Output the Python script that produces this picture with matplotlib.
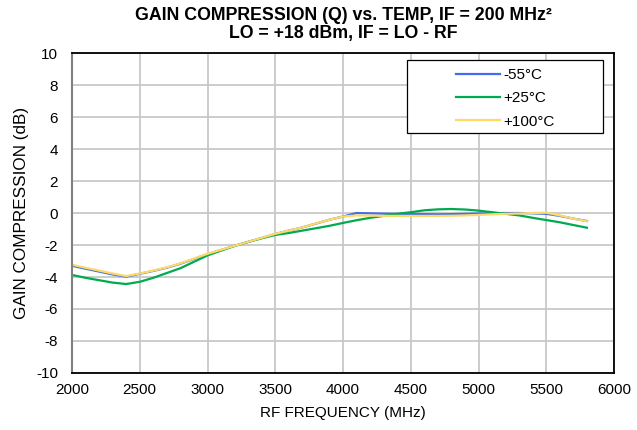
import matplotlib
matplotlib.use("Agg")
import matplotlib.pyplot as plt
from matplotlib.patches import Rectangle

plt.rcParams['font.family'] = ['Liberation Sans', 'DejaVu Sans']
plt.rcParams['axes.unicode_minus'] = False

freq = [2000, 2100, 2200, 2300, 2400, 2500, 2600, 2700, 2800, 2900,
        3000, 3100, 3200, 3300, 3400, 3500, 3600, 3700, 3800, 3900,
        4000, 4100, 4200, 4300, 4400, 4500, 4600, 4700, 4800, 4900,
        5000, 5100, 5200, 5300, 5400, 5500, 5600, 5700, 5800]

gc_m55 = [-3.30, -3.48, -3.66, -3.84, -3.98, -3.80, -3.62, -3.42, -3.17, -2.87,
          -2.57, -2.31, -2.06, -1.81, -1.56, -1.31, -1.10, -0.90, -0.66, -0.42,
          -0.22, 0.00, -0.02, -0.04, -0.05, -0.06, -0.07, -0.08, -0.07, -0.05,
          -0.03, -0.01, 0.00, 0.00, -0.02, -0.05, -0.18, -0.35, -0.50]

gc_p25 = [-3.87, -4.05, -4.20, -4.35, -4.44, -4.30, -4.05, -3.75, -3.45, -3.05,
          -2.65, -2.35, -2.05, -1.80, -1.58, -1.37, -1.25, -1.10, -0.95, -0.80,
          -0.62, -0.45, -0.30, -0.18, -0.05, 0.05, 0.17, 0.23, 0.25, 0.22,
          0.15, 0.05, -0.05, -0.15, -0.30, -0.44, -0.58, -0.75, -0.92]

gc_p100 = [-3.23, -3.42, -3.60, -3.78, -3.94, -3.78, -3.60, -3.40, -3.15, -2.85,
           -2.55, -2.30, -2.05, -1.80, -1.55, -1.30, -1.10, -0.90, -0.65, -0.42,
           -0.22, -0.15, -0.16, -0.18, -0.18, -0.18, -0.18, -0.18, -0.17, -0.15,
           -0.12, -0.08, -0.05, -0.03, 0.00, 0.02, -0.15, -0.35, -0.52]

labels = ['-55°C', '+25°C', '+100°C']
colors = ['#3F6FF0', '#00AA4F', '#FFD966']

xticks = [2000, 2500, 3000, 3500, 4000, 4500, 5000, 5500, 6000]
yticks = [-10, -8, -6, -4, -2, 0, 2, 4, 6, 8, 10]

fig = plt.figure(figsize=(6.37, 4.30), dpi=100)
ax = fig.add_axes([0.113, 0.1326, 0.851, 0.744])

for ys, lab, c in zip([gc_m55, gc_p25, gc_p100], labels, colors):
    ax.plot(freq, ys, color=c, lw=1.6, label=lab)

ax.set_xlim(2000, 6000)
ax.set_ylim(-10, 10)
ax.set_xticks(xticks)
ax.set_yticks(yticks)
ax.grid(True, color='#C8C8C8', lw=1.3)
ax.set_axisbelow(True)
ax.tick_params(length=0, labelsize=11)
ax.tick_params(axis='x', pad=7)
ax.tick_params(axis='y', pad=10)

for s in ['top', 'right', 'bottom']:
    ax.spines[s].set_color('black')
    ax.spines[s].set_linewidth(1.3)
ax.spines['left'].set_color('#808080')
ax.spines['left'].set_linewidth(1.5)

ax.set_xlabel('RF FREQUENCY (MHz)', fontsize=11, labelpad=7)
ax.set_ylabel('GAIN COMPRESSION (dB)', fontsize=12.3, labelpad=5)
ax.set_title('GAIN COMPRESSION (Q) vs. TEMP, IF = 200 MHz²\nLO = +18 dBm, IF = LO - RF',
             fontsize=12.8, fontweight='bold', pad=11, linespacing=1.05)

# legend frame (box drawn separately, entries via legend)
ax.add_patch(Rectangle((0.618, 0.75), 0.362, 0.228, transform=ax.transAxes,
                       facecolor='white', edgecolor='black', lw=0.9, zorder=4))
leg = ax.legend(loc='upper left', bbox_to_anchor=(0.700, 0.968), fontsize=11,
                frameon=False, handlelength=2.9, handletextpad=0.2,
                borderpad=0.3, labelspacing=0.62, borderaxespad=0)
leg.set_zorder(5)

fig.savefig('out.png', dpi=100)
